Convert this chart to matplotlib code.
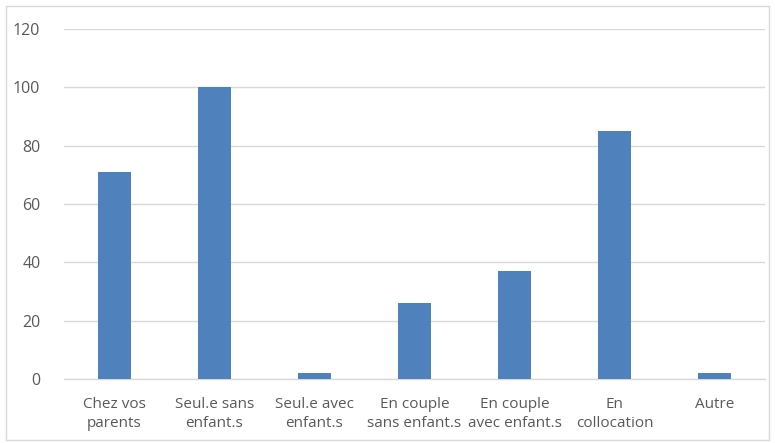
import matplotlib
matplotlib.use("Agg")
import matplotlib.pyplot as plt
from matplotlib.patches import Rectangle

categories = ["Chez vos\nparents", "Seul.e sans\nenfant.s", "Seul.e avec\nenfant.s",
              "En couple\nsans enfant.s", "En couple\navec enfant.s", "En\ncollocation", "Autre"]
values = [71, 100, 2, 26, 37, 85, 2]
yticks = [0, 20, 40, 60, 80, 100, 120]

plt.rcParams['font.family'] = ['Open Sans', 'DejaVu Sans']

fig = plt.figure(figsize=(7.75, 4.43), dpi=100)
ax = fig.add_axes([64/775, 1-379/443, (765-64)/775, (379-29)/443])

x = list(range(len(categories)))
ax.bar(x, values, width=0.33, color="#4F81BD", zorder=3)
ax.set_xlim(-0.5, len(categories)-0.5)
ax.set_ylim(0, 120)
ax.set_yticks(yticks)
ax.set_yticklabels([str(v) for v in yticks], fontsize=11.5)
ax.set_xticks(x)
ax.set_xticklabels(categories, linespacing=1.4, fontsize=11)
ax.yaxis.grid(True, color="#D9D9D9", linewidth=1, zorder=0)
for s in ["top", "right", "left"]:
    ax.spines[s].set_visible(False)
ax.spines["bottom"].set_color("#D9D9D9")
ax.spines["bottom"].set_linewidth(1)
ax.tick_params(axis="both", length=0, colors="#595959")
ax.tick_params(axis="y", pad=17)
ax.tick_params(axis="x", pad=13)

fig.patches.append(Rectangle((6/775, 3/443), 763/775, 434/443, transform=fig.transFigure,
                             fill=False, edgecolor="#D9D9D9", linewidth=1))

fig.savefig("out.png", dpi=100)
